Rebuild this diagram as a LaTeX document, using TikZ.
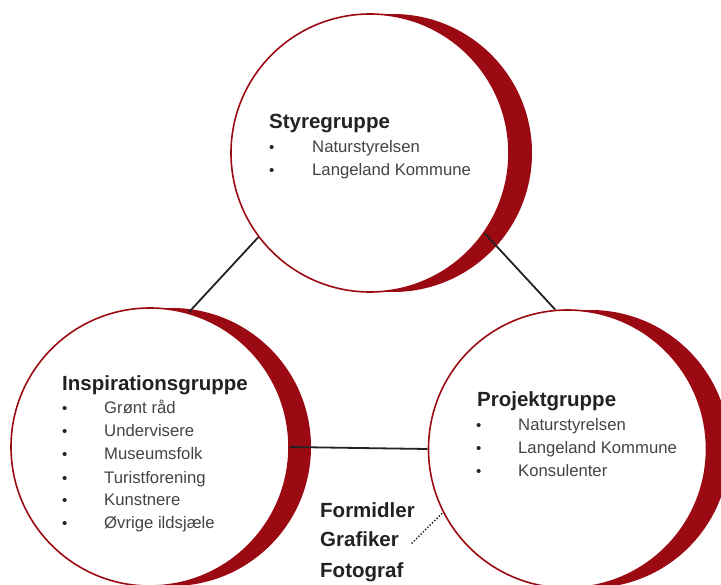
\documentclass[tikz,border=0pt]{standalone}
\usepackage{fontspec}
\setmainfont{Liberation Sans}
\pgfdeclarelayer{bg}
\pgfsetlayers{bg,main}
\definecolor{crimson}{HTML}{9B0A12}
\definecolor{ink}{HTML}{222222}
\definecolor{soft}{HTML}{444444}
\tikzset{
  shadowdisc/.style={circle, fill=crimson, draw=none, minimum size=278pt, inner sep=0pt},
  groupdisc/.style={circle, fill=white, draw=crimson, line width=1.6pt, minimum size=278pt, inner sep=0pt},
  link/.style={draw=ink, line width=1.8pt},
  hint/.style={draw=ink, line width=2pt, line cap=round, dash pattern=on 0pt off 3.2pt},
  head/.style={anchor=base west, inner sep=0pt, font=\fontsize{20.5}{23}\selectfont\bfseries, text=ink},
  item/.style={anchor=base west, inner sep=0pt, font=\fontsize{16.7}{19}\selectfont, text=soft},
  dot/.style={anchor=base west, inner sep=0pt, font=\fontsize{15}{18}\selectfont, text=ink},
}
\begin{document}
\begin{tikzpicture}[x=1pt,y=-1pt]
\useasboundingbox (0,0) rectangle (721,585);
% white group circles
\node[groupdisc] (top) at (370,153) {};
\node[groupdisc] (left) at (150,447) {};
\node[groupdisc] (right) at (567.5,449) {};
\begin{pgfonlayer}{bg}
  \node[shadowdisc] (topsh) at (393,153) {};
  \node[shadowdisc] (leftsh) at (172,447) {};
  \node[shadowdisc] (rightsh) at (590.5,449) {};
  \draw[link] (top.217) -- (left.74);
  \draw[link] (top.-35) -- (right.95);
  \draw[link] (left.0) -- (right.180);
\end{pgfonlayer}
% Styregruppe
\node[head] (styre) at (269,129) {Styregruppe};
\node[dot] (s1) at (269,153) {\textbullet};
\node[item] (s1t) at (312,153) {Naturstyrelsen};
\node[dot] (s2) at (269,176) {\textbullet};
\node[item] (s2t) at (312,176) {Langeland Kommune};
% Inspirationsgruppe
\node[head] (insp) at (62,391) {Inspirationsgruppe};
\node[dot] (i1) at (62,414) {\textbullet};
\node[item] (i1t) at (104,414) {Grønt råd};
\node[dot] (i2) at (62,437) {\textbullet};
\node[item] (i2t) at (104,437) {Undervisere};
\node[dot] (i3) at (62,460) {\textbullet};
\node[item] (i3t) at (104,460) {Museumsfolk};
\node[dot] (i4) at (62,483) {\textbullet};
\node[item] (i4t) at (104,483) {Turistforening};
\node[dot] (i5) at (62,506) {\textbullet};
\node[item] (i5t) at (104,506) {Kunstnere};
\node[dot] (i6) at (62,529) {\textbullet};
\node[item] (i6t) at (104,529) {Øvrige ildsjæle};
% Projektgruppe
\node[head] (proj) at (477,407) {Projektgruppe};
\node[dot] (p1) at (476,431) {\textbullet};
\node[item] (p1t) at (518,431) {Naturstyrelsen};
\node[dot] (p2) at (476,454) {\textbullet};
\node[item] (p2t) at (518,454) {Langeland Kommune};
\node[dot] (p3) at (476,477) {\textbullet};
\node[item] (p3t) at (518,477) {Konsulenter};
% extra roles
\node[head] (form) at (320,518) {Formidler};
\node[head] (graf) at (320,547) {Grafiker};
\node[head] (foto) at (320,577) {Fotograf};
\coordinate (hintend) at (412,543);
\draw[hint] (hintend) -- (right.207);
\end{tikzpicture}
\end{document}
